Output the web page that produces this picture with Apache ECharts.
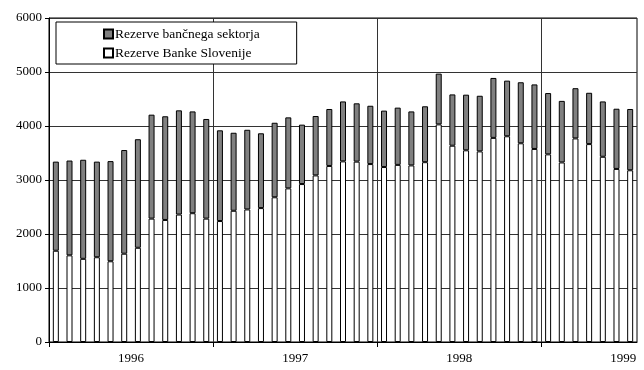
<!DOCTYPE html>
<html>
<head>
<meta charset="utf-8">
<script src="https://cdn.jsdelivr.net/npm/echarts@6/dist/echarts.min.js"></script>
<style>
  html, body { margin: 0; padding: 0; background: #fff; }
  #chart { width: 644px; height: 370px; }
</style>
</head>
<body>
<div id="chart"></div>
<script>
// mesečni podatki jan 1996 - jul 1999
const months = [
  "1996-01","1996-02","1996-03","1996-04","1996-05","1996-06","1996-07","1996-08","1996-09","1996-10","1996-11","1996-12",
  "1997-01","1997-02","1997-03","1997-04","1997-05","1997-06","1997-07","1997-08","1997-09","1997-10","1997-11","1997-12",
  "1998-01","1998-02","1998-03","1998-04","1998-05","1998-06","1998-07","1998-08","1998-09","1998-10","1998-11","1998-12",
  "1999-01","1999-02","1999-03","1999-04","1999-05","1999-06","1999-07"
];
const years = ["1996", "1997", "1998", "1999"];
const yTicks = [0, 1000, 2000, 3000, 4000, 5000, 6000];

const rezerveBS = [
  1690, 1605, 1540, 1570, 1495, 1635, 1745, 2285, 2260, 2360, 2385, 2285,
  2240, 2430, 2455, 2480, 2680, 2845, 2925, 3085, 3260, 3345, 3340, 3295,
  3240, 3280, 3270, 3330, 4030, 3635, 3550, 3530, 3780, 3810, 3680, 3575,
  3475, 3325, 3770, 3665, 3430, 3205, 3180
];
const rezerveBanke = [
  1650, 1755, 1835, 1770, 1855, 1920, 2010, 1925, 1920, 1930, 1885, 1845,
  1680, 1445, 1475, 1385, 1380, 1315, 1100, 1100, 1055, 1110, 1080, 1080,
  1045, 1060, 1000, 1035, 940, 950, 1030, 1030, 1110, 1030, 1130, 1195,
  1135, 1140, 930, 950, 1025, 1115, 1135
];

const font = "Liberation Serif";
let myChart = echarts.init(document.getElementById("chart"));
myChart.setOption({
  animation: false,
  textStyle: { fontFamily: font, color: "#000" },
  grid: {
    left: 49, right: 7, top: 18, bottom: 28,
    show: true, borderColor: "#000", borderWidth: 1, backgroundColor: "transparent"
  },
  legend: {
    orient: "vertical",
    left: 56, top: 22,
    padding: [5, 37, 4, 47],
    itemGap: 5,
    itemWidth: 9, itemHeight: 9,
    icon: "rect",
    backgroundColor: "#fff",
    borderColor: "#000", borderWidth: 1, borderRadius: 0,
    textStyle: { fontFamily: font, fontSize: 13.5, color: "#000", padding: [0, 0, 0, -3] },
    data: ["Rezerve bančnega sektorja", "Rezerve Banke Slovenije"]
  },
  xAxis: [
    {
      type: "category",
      data: months,
      boundaryGap: true,
      axisLine: { show: true, lineStyle: { color: "#000", width: 1 } },
      axisTick: { show: false },
      axisLabel: { show: false },
      splitLine: { show: false }
    },
    {
      type: "value",
      position: "bottom",
      min: 0, max: months.length, interval: 12,
      axisLine: { show: false },
      axisTick: { show: true, length: 5, customValues: [0, 12, 24, 36], lineStyle: { color: "#000" } },
      axisLabel: {
        show: true, margin: 10, fontFamily: font, fontSize: 13, color: "#000",
        customValues: [6, 18, 30, 42],
        formatter: function (v) { return years[(v - 6) / 12] || ""; }
      },
      splitLine: { show: true, lineStyle: { color: "#333", width: 1 } }
    }
  ],
  yAxis: {
    type: "value",
    min: yTicks[0], max: yTicks[yTicks.length - 1], interval: 1000,
    axisLine: { show: true, lineStyle: { color: "#000", width: 1 } },
    axisTick: { show: true, length: 4, lineStyle: { color: "#000" } },
    axisLabel: {
      margin: 7, fontFamily: font, fontSize: 13, color: "#000",
      formatter: function (v) { return String(v); }
    },
    splitLine: { show: true, lineStyle: { color: "#333", width: 1 } }
  },
  series: [
    {
      name: "Rezerve Banke Slovenije",
      type: "bar",
      stack: "rez",
      barWidth: 6,
      data: rezerveBS,
      itemStyle: { color: "#fff", borderColor: "#000", borderWidth: 1 }
    },
    {
      name: "Rezerve bančnega sektorja",
      type: "bar",
      stack: "rez",
      barWidth: 6,
      data: rezerveBanke,
      itemStyle: { color: "#808080", borderColor: "#000", borderWidth: 1 }
    }
  ]
});
</script>
</body>
</html>
